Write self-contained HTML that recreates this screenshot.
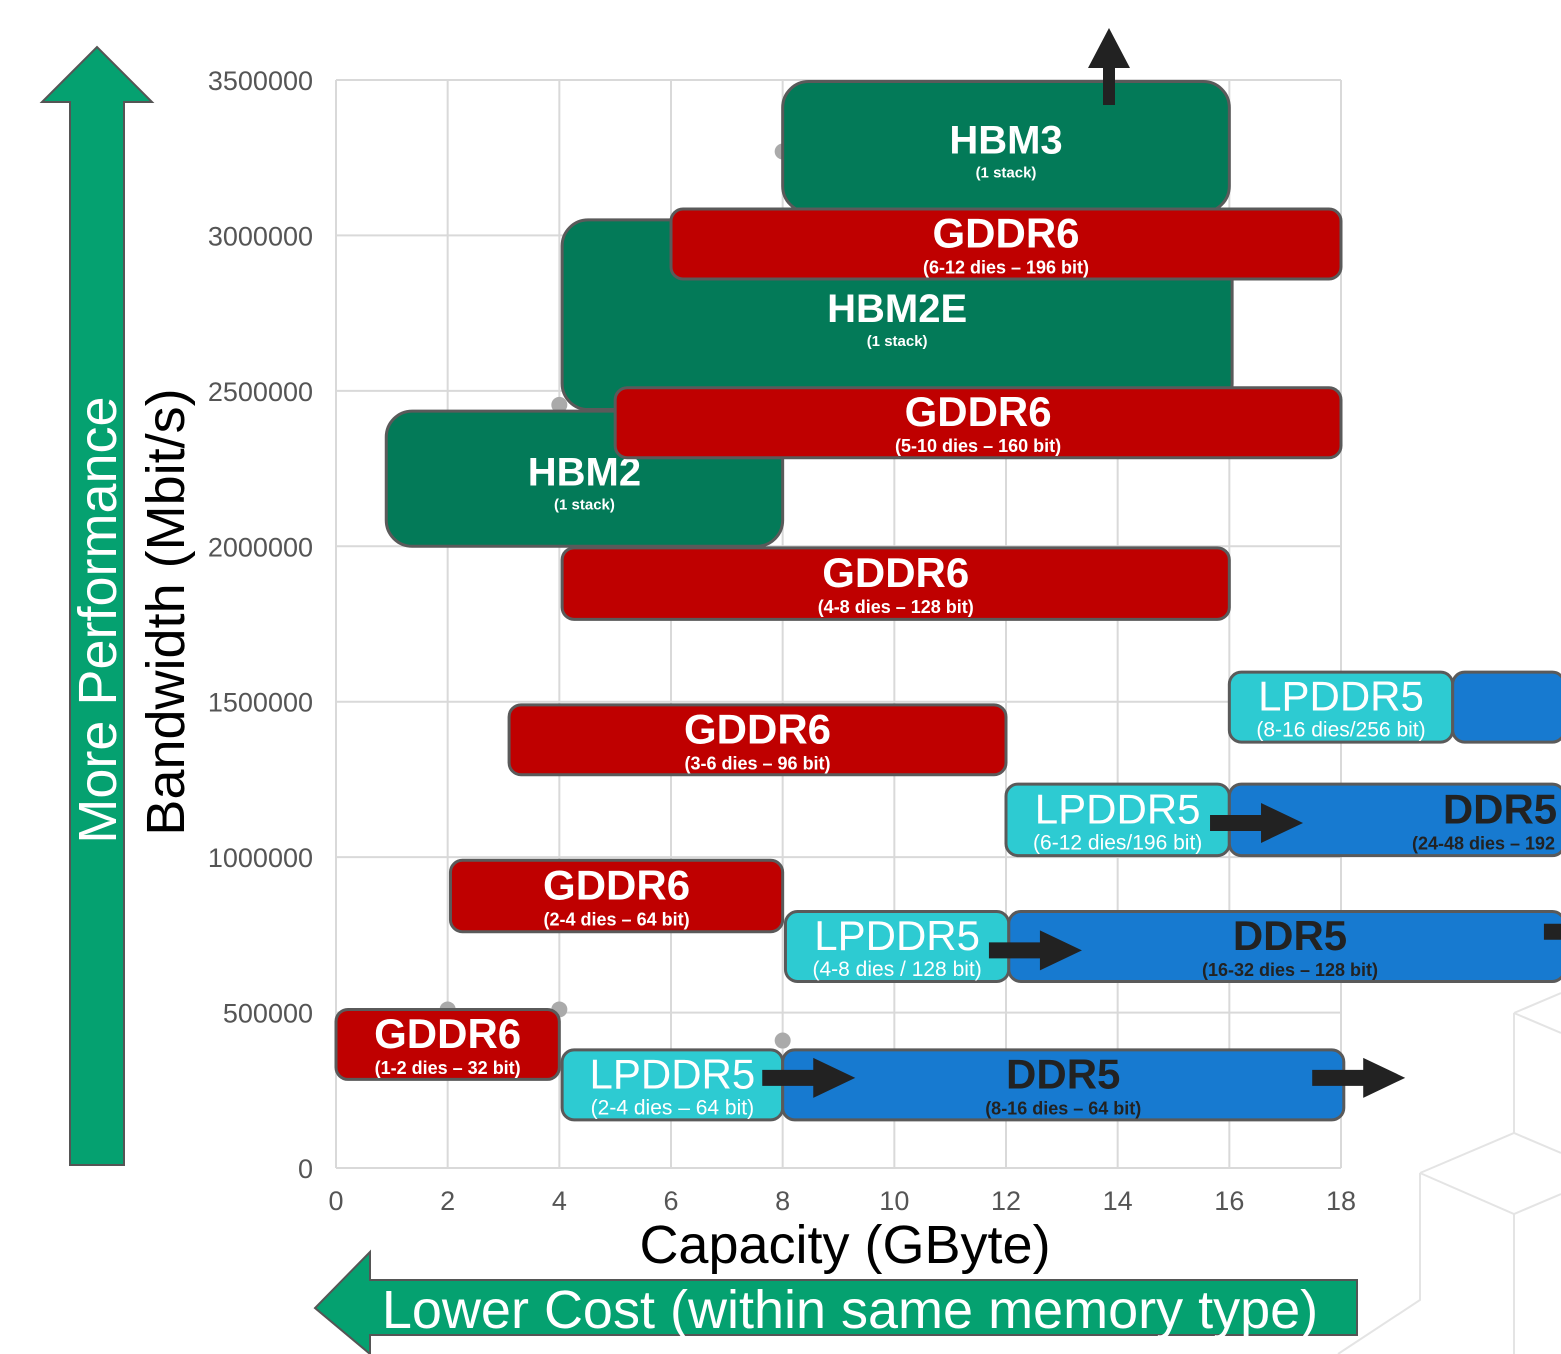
<!DOCTYPE html>
<html><head><meta charset="utf-8"><style>
html,body{margin:0;padding:0;background:#fff;}
svg{display:block;font-family:"Liberation Sans",sans-serif;}
</style></head><body>
<svg id="chart" width="1561" height="1354" viewBox="0 0 1561 1354" xmlns="http://www.w3.org/2000/svg">
<g id="bgdeco" stroke="#e4e4e4" stroke-width="2" fill="none">
<path d="M1420,1173 L1514,1133 L1561,1153 M1420,1173 L1514,1214 L1561,1194 M1514,1214 L1514,1354 M1420,1173 L1420,1300 L1338,1354 M1514,1013 L1561,993 M1514,1013 L1514,1133 M1514,1013 L1561,1033"/>
</g>
<g id="grid"></g>
<g id="axes"></g>
<g id="dots"></g>
<g id="boxes"></g>
<g id="arrows"></g>
<g>
<polygon points="70,1165 124,1165 124,102 152,102 97,47 42,102 70,102" fill="#05a170" stroke="#555" stroke-width="2"/>
<text transform="translate(116,620) rotate(-90)" text-anchor="middle" font-size="54" fill="#fff">More Performance</text>
</g>
<g>
<polygon points="1357,1280 1357,1335 370,1335 370,1354 315,1308 370,1252 370,1280" fill="#05a170" stroke="#555" stroke-width="2"/>
<text x="850" y="1328" text-anchor="middle" font-size="54" fill="#fff">Lower Cost (within same memory type)</text>
</g>
<text transform="translate(184,612) rotate(-90)" text-anchor="middle" font-size="54" fill="#000">Bandwidth (Mbit/s)</text>
<text x="845" y="1263" text-anchor="middle" font-size="54" fill="#000">Capacity (GByte)</text>
</svg>
<script>
const xTicks=[0,2,4,6,8,10,12,14,16,18];
const yTicks=[0,500000,1000000,1500000,2000000,2500000,3000000,3500000];
const boxLabels=["HBM3","HBM2E","HBM2","GDDR6","GDDR6","GDDR6","GDDR6","LPDDR5","","LPDDR5","DDR5","GDDR6","LPDDR5","DDR5","GDDR6","LPDDR5","DDR5"];
const boxSubs=["(1 stack)","(1 stack)","(1 stack)","(6-12 dies – 196 bit)","(5-10 dies – 160 bit)","(4-8 dies – 128 bit)","(3-6 dies – 96 bit)","(8-16 dies/256 bit)","","(6-12 dies/196 bit)","(24-48 dies – 192 bit)","(2-4 dies – 64 bit)","(4-8 dies / 128 bit)","(16-32 dies – 128 bit)","(1-2 dies – 32 bit)","(2-4 dies – 64 bit)","(8-16 dies – 64 bit)"];
const boxKind=["hbm","hbm","hbm","gddr","gddr","gddr","gddr","lp","ddr","lp","ddr","gddr","lp","ddr","gddr","lp","ddr"];
const capMin=[8,4.05,0.9,6,5,4.05,3.1,16,20,12,16,2.05,8.05,12.05,0,4.05,8];
const capMax=[16,16.05,8,18,18,16,12,20,22,16,22,8,12.05,22,4,8,18.05];
const bwMin=[3075000,2440000,2000000,2860000,2285000,1765000,1265000,1370000,1370000,1005000,1005000,760000,600000,600000,285000,155000,155000];
const bwMax=[3495000,3050000,2435000,3085000,2510000,1995000,1490000,1595000,1595000,1235000,1235000,990000,825000,825000,510000,380000,380000];
const dotCap=[2,4,8,4,8];
const dotBw=[510000,510000,410000,2455000,3270000];
const arrowCap=[9.3,19.15,13.36,17.32,23.3];
const arrowBw=[290000,290000,700000,1110000,760000];

const NS="http://www.w3.org/2000/svg";
const X=v=>336+v*(1341-336)/18;
const Y=v=>1168-v*(1168-80)/3500000;
function mk(tag,attrs,parent,txt){const e=document.createElementNS(NS,tag);for(const k in attrs)e.setAttribute(k,attrs[k]);if(txt!==undefined)e.textContent=txt;parent.appendChild(e);return e;}
const grid=document.getElementById('grid'),axes=document.getElementById('axes');
xTicks.forEach(t=>{
 const l=mk('line',{x1:X(t),x2:X(t),y1:Y(3500000),y2:Y(0),stroke:'#d9d9d9','stroke-width':2},grid);
 
 
 const tx=mk('text',{x:X(t),y:1210,'text-anchor':'middle','font-size':27,fill:'#555'},axes,t);
 
 
});
yTicks.forEach(t=>{
 const l=mk('line',{x1:X(0),x2:X(18),y1:Y(t),y2:Y(t),stroke:'#d9d9d9','stroke-width':2},grid);
 
 
 const tx=mk('text',{x:313,y:Y(t)+10,'text-anchor':'end','font-size':27,fill:'#555'},axes,t);
 
 
});
const dots=document.getElementById('dots');
dotCap.forEach((c,i)=>{const d=mk('circle',{cx:X(c),cy:Y(dotBw[i]),r:8,fill:'#aaa'},dots);
 
 });
const colors={hbm:'#037a58',gddr:'#bf0000',lp:'#2dcbd2',ddr:'#177ad0'};
const boxes=document.getElementById('boxes');
boxLabels.forEach((lab,i)=>{
 const g=mk('g',{},boxes);
 
 
 const x0=X(capMin[i]),x1=X(capMax[i]),y0=Y(bwMax[i]),y1=Y(bwMin[i]);
 const k=boxKind[i];
 const r=k==='hbm'?26:12;
 mk('rect',{x:x0,y:y0,width:x1-x0,height:y1-y0,rx:r,fill:colors[k],stroke:'#5a5a5a','stroke-width':3},g);
 let cx=(x0+x1)/2, h=y1-y0;
 if(x1>1561) cx=(Math.max(x0,0)+1561)/2;
 if(k==='ddr'&&capMin[i]>=16) cx=1500;
 if(k==='ddr'&&capMin[i]>=12&&capMin[i]<16) cx=1290;
 const tc=(k==='ddr')?'#222':'#fff';
 const bold=(k==='lp')?'normal':'bold';
 const fs=(k==='lp')?42:(k==='hbm'?40:42);
 const ty=k==='hbm'?y0+Math.min(h*0.55,102):y0+h*0.55;
 if(lab){const t1=mk('text',{x:cx,y:ty,'text-anchor':'middle','font-size':fs,'font-weight':bold,fill:tc},g,lab);
 
 }
 if(boxSubs[i]){const t2=mk('text',{x:cx,y:ty+(k==='hbm'?24:26),'text-anchor':'middle','font-size':k==='hbm'?15:(k==='lp'?21:18),'font-weight':k==='lp'?'normal':'bold',fill:tc},g,boxSubs[i]);
 
 }
});
const arrows=document.getElementById('arrows');
arrowCap.forEach((c,i)=>{const x=X(c),y=Y(arrowBw[i]);
 const p=mk('polygon',{points:`${x-93},${y-8} ${x-42},${y-8} ${x-42},${y-20} ${x},${y} ${x-42},${y+20} ${x-42},${y+8} ${x-93},${y+8}`,fill:'#222'},arrows);
 
 });
const up=mk('polygon',{points:'1103,105 1115,105 1115,68 1130,68 1109,28 1088,68 1103,68',fill:'#222'},arrows);


</script>
</body></html>
